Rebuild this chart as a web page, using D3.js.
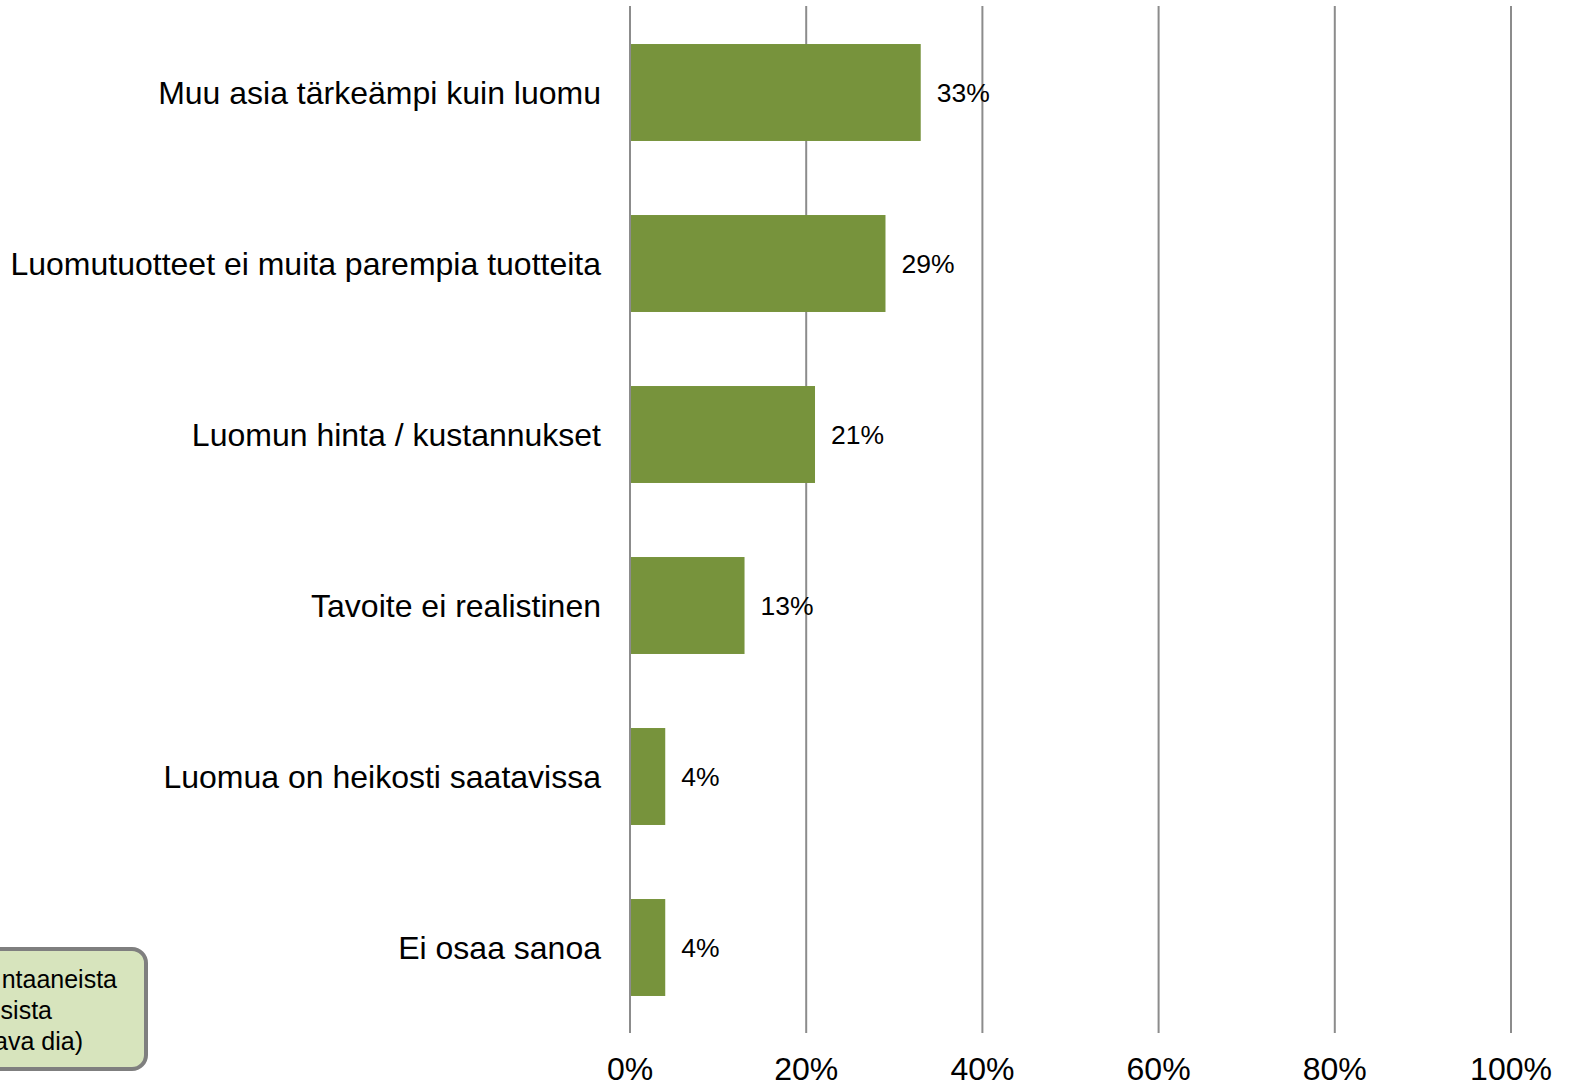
<!DOCTYPE html>
<html><head><meta charset="utf-8">
<script src="https://cdn.jsdelivr.net/npm/d3@7/dist/d3.min.js"></script>
<style>body{margin:0;background:#fff;}svg{display:block;font-family:"Liberation Sans",Arial,sans-serif;}</style>
</head><body>
<script>
const categories = ["Muu asia tärkeämpi kuin luomu","Luomutuotteet ei muita parempia tuotteita","Luomun hinta / kustannukset","Tavoite ei realistinen","Luomua on heikosti saatavissa","Ei osaa sanoa"];
const values = [33, 29, 21, 13, 4, 4];
const tickValues = [0, 20, 40, 60, 80, 100];
const noteLines = ["ntaaneista", "sista", "ava dia)"];

const W = 1571, H = 1086;
const svg = d3.select("body").append("svg").attr("width", W).attr("height", H);

const x = d3.scaleLinear().domain([0, 100]).range([630, 1511]);
const y = d3.scaleBand().domain(categories).range([7, 1033]).paddingInner(0.433).paddingOuter(0.2165);

// gridlines
svg.append("g").selectAll("line").data(tickValues).join("line")
  .attr("x1", d => x(d)).attr("x2", d => x(d))
  .attr("y1", 6).attr("y2", 1033)
  .attr("stroke", "#8c8c8c").attr("stroke-width", 2);

// tick labels
svg.append("g").selectAll("text").data(tickValues).join("text")
  .attr("x", d => x(d)).attr("y", 1080)
  .attr("text-anchor", "middle").attr("font-size", 32).attr("fill", "#000")
  .text(d => d + "%");

// bars
svg.append("g").selectAll("rect").data(values).join("rect")
  .attr("x", x(0) + 1).attr("y", (d, i) => y(categories[i]))
  .attr("width", d => x(d) - x(0) - 1).attr("height", y.bandwidth())
  .attr("fill", "#77933c");

// value labels
svg.append("g").selectAll("text").data(values).join("text")
  .attr("x", d => x(d) + 16).attr("y", (d, i) => y(categories[i]) + y.bandwidth() / 2 + 9.5)
  .attr("font-size", 26.5).attr("fill", "#000")
  .text(d => d + "%");

// category labels
svg.append("g").selectAll("text").data(categories).join("text")
  .attr("x", 601).attr("y", d => y(d) + y.bandwidth() / 2 + 11)
  .attr("text-anchor", "end").attr("font-size", 32).attr("fill", "#000")
  .text(d => d);

// note box (clipped at left, as in the reference)
svg.append("rect").attr("x", -20).attr("y", 949).attr("width", 166).attr("height", 120)
  .attr("rx", 14).attr("fill", "#d7e4bd").attr("stroke", "#7f7f7f").attr("stroke-width", 4);
svg.append("g").selectAll("text").data(noteLines).join("text")
  .attr("x", (d, i) => [117, 52, 83][i]).attr("y", (d, i) => 988 + i * 31)
  .attr("text-anchor", "end").attr("font-size", 25).attr("fill", "#000")
  .text(d => d);
</script>
</body></html>
